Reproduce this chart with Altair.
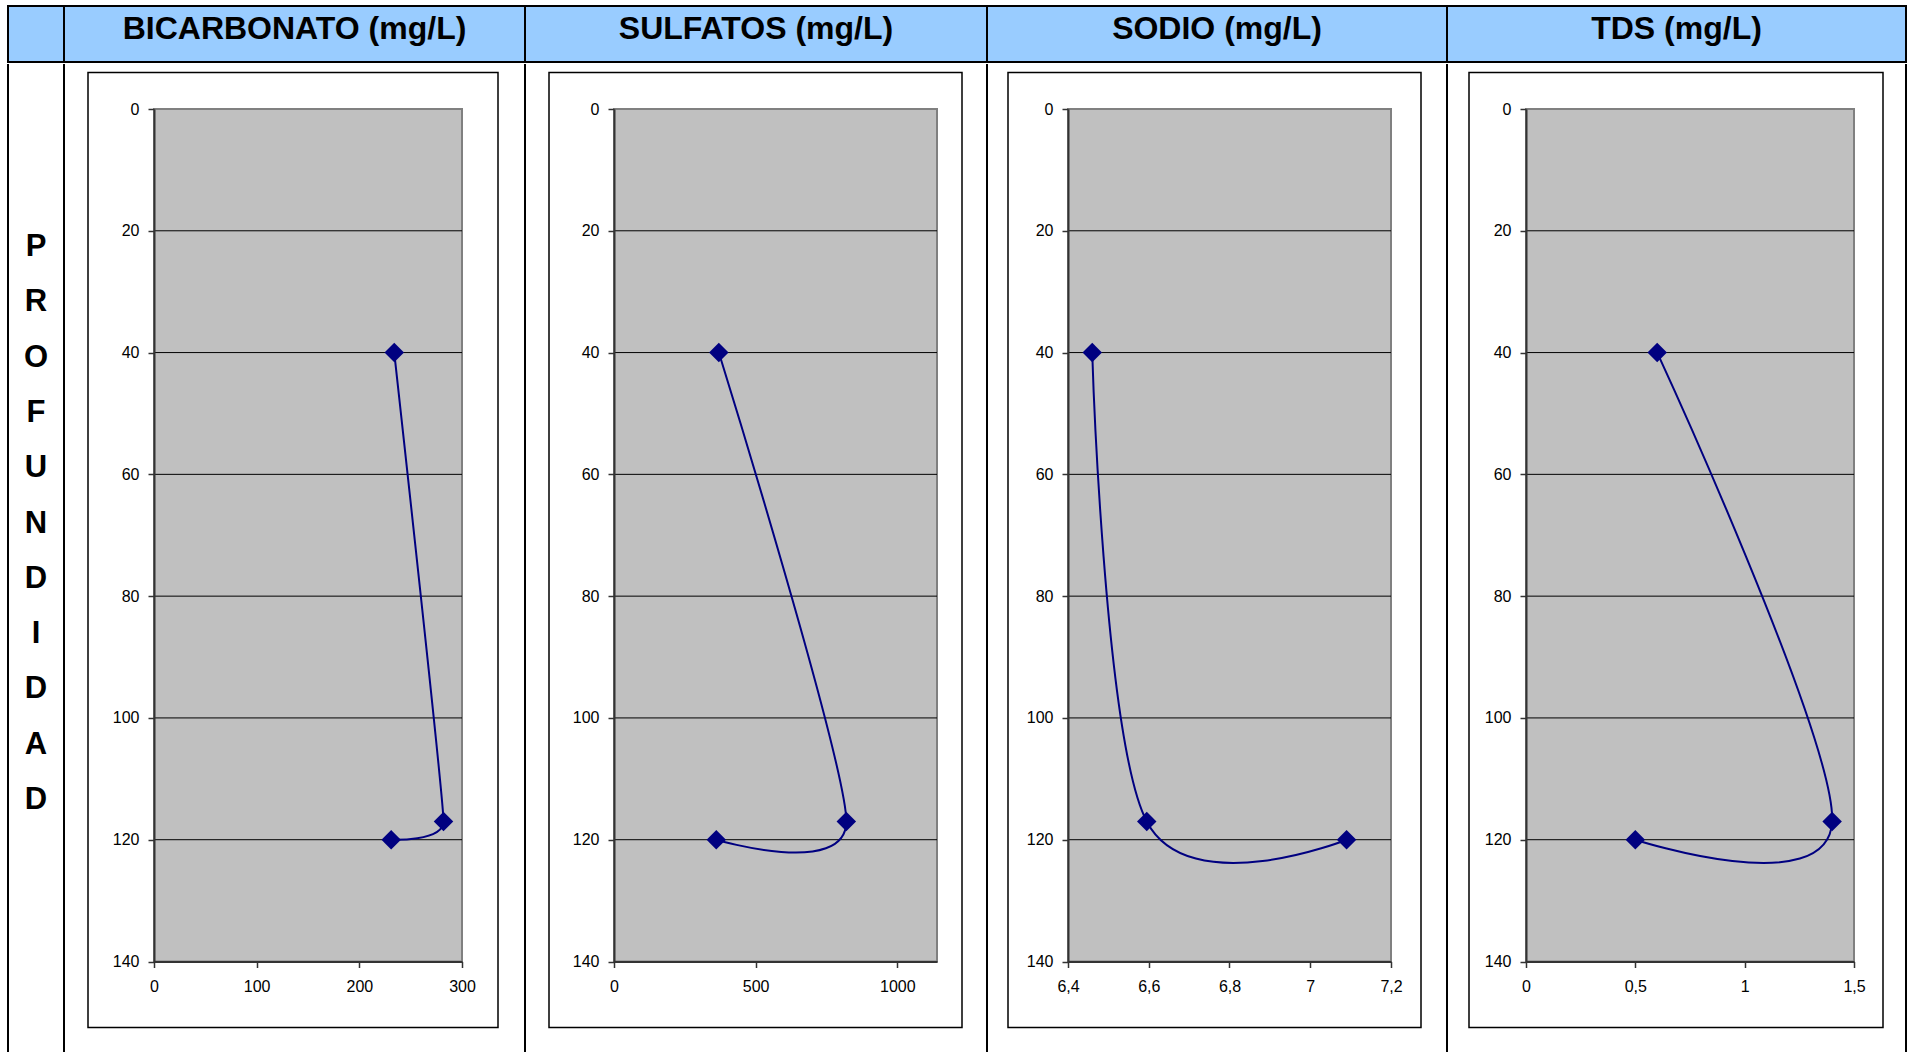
import altair as alt
import pandas as pd

# ---------------- data ----------------
depth = [40, 117, 120]
bicarbonato = [234, 282, 231]
sulfatos = [370, 820, 361]
sodio = [6.46, 6.595, 7.09]
tds = [0.6, 1.4, 0.5]

titles = ["BICARBONATO (mg/L)", "SULFATOS (mg/L)", "SODIO (mg/L)", "TDS (mg/L)"]
series = [bicarbonato, sulfatos, sodio, tds]
x_domains = [[0, 300], [0, 1140], [6.4, 7.2], [0, 1.5]]
x_ticks = [[0, 100, 200, 300], [0, 500, 1000], [6.4, 6.6, 6.8, 7.0, 7.2], [0, 0.5, 1, 1.5]]
depth_domain = [0, 140]
depth_ticks = [0, 20, 40, 60, 80, 100, 120, 140]
grid_depths = [20, 40, 60, 80, 100, 120]
side_letters = list("PROFUNDIDAD")

# ---------------- layout (pixels) ----------------
COL_W = [56, 461, 462, 460, 459]
HEAD_H = 56
BODY_H = 988
BOX = [(24, 434), (24, 437), (21, 434), (22, 436)]
PLOT = [(90, 398), (89, 412), (81, 404), (79, 407)]
BOX_Y = (8.5, 963.5)
PLOT_Y = (45, 897.5)
INTERP = [("cardinal", 0.75), ("cardinal", 0.3), ("cardinal", 0), ("cardinal", 0)]
FONT = "Liberation Sans"
NAVY = "#000080"
HEAD_BLUE = "#99CCFF"

one = pd.DataFrame({"k": [0]})


def border_rules(w, right=False):
    layers = [alt.Chart(one).mark_rule(color="black", strokeWidth=2).encode(
        x=alt.value(0), y=alt.value(0), y2=alt.value(BODY_H))]
    if right:
        layers.append(alt.Chart(one).mark_rule(color="black", strokeWidth=2).encode(
            x=alt.value(w), y=alt.value(0), y2=alt.value(BODY_H)))
    return layers


def axis_common():
    return dict(labelFont=FONT, labelFontSize=16, labelColor="black",
                domainColor="#333333", domainWidth=2, tickColor="#333333",
                tickWidth=1.5, grid=False, title=None, labelOverlap=False,
                labelFlush=False, zindex=1)


def panel(i):
    w = COL_W[i + 1]
    xs = alt.Scale(domain=x_domains[i], range=list(PLOT[i]), nice=False, zero=False)
    ys = alt.Scale(domain=depth_domain, range=list(PLOT_Y), nice=False, zero=False)
    xaxis = alt.Axis(values=x_ticks[i], orient="bottom", offset=PLOT_Y[1] - BODY_H,
                     labelExpr="replace(toString(datum.value), '.', ',')",
                     tickSize=6, labelPadding=11, **axis_common())
    yaxis = alt.Axis(values=depth_ticks, orient="left", offset=-PLOT[i][0],
                     tickSize=6, labelPadding=9, labelBaseline="middle", **axis_common())

    df = pd.DataFrame({"idx": [0, 1, 2], "depth": depth, "value": series[i]})
    gdf = pd.DataFrame({"g": grid_depths})

    box = alt.Chart(one).mark_rect(fill="white", stroke="black", strokeWidth=1.5).encode(
        x=alt.value(BOX[i][0]), x2=alt.value(BOX[i][1]),
        y=alt.value(BOX_Y[0]), y2=alt.value(BOX_Y[1]))

    bg = alt.Chart(one).mark_rect(fill="#C0C0C0", stroke="#808080", strokeWidth=2).encode(
        x=alt.X(datum=x_domains[i][0], type="quantitative", scale=xs, axis=xaxis),
        x2=alt.X2(datum=x_domains[i][1]),
        y=alt.Y(datum=depth_domain[0], type="quantitative", scale=ys, axis=yaxis),
        y2=alt.Y2(datum=depth_domain[1]))

    grid = alt.Chart(gdf).mark_rule(color="black", strokeWidth=1).encode(
        x=alt.X(datum=x_domains[i][0], type="quantitative", scale=xs, axis=xaxis),
        x2=alt.X2(datum=x_domains[i][1]),
        y=alt.Y("g:Q", scale=ys, axis=yaxis))

    interp, tension = INTERP[i]
    line_kw = dict(color=NAVY, strokeWidth=2, interpolate=interp)
    if tension:
        line_kw["tension"] = tension
    line = alt.Chart(df).mark_line(**line_kw).encode(
        x=alt.X("value:Q", scale=xs, axis=xaxis),
        y=alt.Y("depth:Q", scale=ys, axis=yaxis),
        order="idx:Q")

    pts = alt.Chart(df).mark_point(shape="diamond", filled=True, size=380,
                                   color=NAVY, opacity=1).encode(
        x=alt.X("value:Q", scale=xs, axis=xaxis),
        y=alt.Y("depth:Q", scale=ys, axis=yaxis))

    layers = [box, bg, grid, line, pts] + border_rules(w, right=(i == 3))
    return alt.layer(*layers).properties(width=w, height=BODY_H)


def side_panel():
    w = COL_W[0]
    ldf = pd.DataFrame({"i": list(range(len(side_letters))), "letter": side_letters})
    letters = alt.Chart(ldf).mark_text(font=FONT, fontWeight="bold", fontSize=31,
                                       baseline="middle", align="center", color="black").encode(
        x=alt.value(w / 2),
        y=alt.Y("i:Q", scale=alt.Scale(domain=[0, len(side_letters) - 1], range=[183, 736]),
                axis=None),
        text="letter:N")
    return alt.layer(letters, *border_rules(w)).properties(width=w, height=BODY_H)


def header(i):
    w = COL_W[i]
    label = "" if i == 0 else titles[i - 1]
    hdf = pd.DataFrame({"t": [label]})
    return alt.Chart(hdf).mark_text(font=FONT, fontWeight="bold", fontSize=32,
                                    baseline="middle", align="center", color="black").encode(
        x=alt.value(w / 2), y=alt.value(23), text="t:N"
    ).properties(width=w, height=HEAD_H,
                 view=alt.ViewBackground(fill=HEAD_BLUE, stroke="black", strokeWidth=2))


top = alt.hconcat(*[header(i) for i in range(5)], spacing=0, bounds="flush")
bottom = alt.hconcat(side_panel(), *[panel(i) for i in range(4)], spacing=0, bounds="flush")

chart = alt.vconcat(top, bottom, spacing=0).properties(
    padding={"left": 7, "top": 5, "right": 0, "bottom": 0},
    background="white",
).configure_view(strokeWidth=0)

chart.save("out.html", embed_options={"renderer": "svg", "actions": False})
